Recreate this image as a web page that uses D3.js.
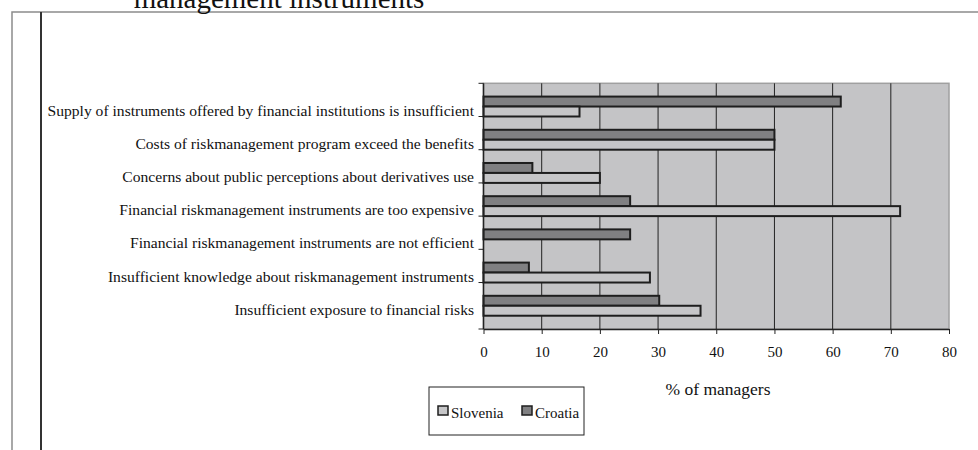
<!DOCTYPE html>
<html><head><meta charset="utf-8">
<script src="https://cdn.jsdelivr.net/npm/d3@7"></script>
<style>body{margin:0;background:#fff}svg{display:block}text{font-family:"Liberation Serif","Times New Roman",serif;fill:#111}</style>
</head><body>
<svg id="chart" width="978" height="450"></svg>
<script>
const categories = [
  "Supply of instruments offered by financial institutions is insufficient",
  "Costs of riskmanagement program exceed the benefits",
  "Concerns about public perceptions about derivatives use",
  "Financial riskmanagement instruments are too expensive",
  "Financial riskmanagement instruments are not efficient",
  "Insufficient knowledge about riskmanagement instruments",
  "Insufficient exposure to financial risks"
];
const seriesNames = ["Croatia", "Slovenia"];
const croatia = [61.4, 50, 8.4, 25.2, 25.2, 7.8, 30.2];
const slovenia = [16.5, 50, 20, 71.6, 0, 28.6, 37.3];
const xTicks = [0, 10, 20, 30, 40, 50, 60, 70, 80];
const legendItems = ["Slovenia", "Croatia"];
const titleText = "management instruments";
const xTitle = "% of managers";

const colors = {Croatia: "#808082", Slovenia: "#c6c6c8"};
const svg = d3.select("#chart");

// outer frame
svg.append("rect").attr("x", 12).attr("y", 12).attr("width", 1000).attr("height", 500)
  .attr("fill", "none").attr("stroke", "#8c8c8c").attr("stroke-width", 1.5);
svg.append("line").attr("x1", 41).attr("x2", 41).attr("y1", 12).attr("y2", 450)
  .attr("stroke", "#333").attr("stroke-width", 2);
svg.append("text").attr("x", 279).attr("y", 8).attr("text-anchor", "middle")
  .style("font-size", "29px").text(titleText);

const L = 483.5, R = 949, T = 83.3, B = 329;
const x = d3.scaleLinear().domain([0, 80]).range([L, R]);
const y = d3.scaleBand().domain(categories).range([T, B]).padding(0.4);
const yi = d3.scaleBand().domain(seriesNames).range([0, y.bandwidth()]);

svg.append("rect").attr("x", L).attr("y", T).attr("width", R - L).attr("height", B - T)
  .attr("fill", "#c4c4c6").attr("stroke", "#a0a0a0").attr("stroke-width", 1.5);

// grid
svg.append("g").selectAll("line").data(xTicks.slice(1, -1)).join("line")
  .attr("x1", d => x(d)).attr("x2", d => x(d)).attr("y1", T).attr("y2", B)
  .attr("stroke", "#222").attr("stroke-width", 1);

// bars
const data = categories.map((c, i) => ({c, Croatia: croatia[i], Slovenia: slovenia[i]}));
const g = svg.append("g");
data.forEach(d => {
  seriesNames.forEach(s => {
    if (d[s] <= 0) return;
    g.append("rect")
      .attr("x", x(0)).attr("y", y(d.c) + yi(s))
      .attr("width", x(d[s]) - x(0)).attr("height", yi.bandwidth())
      .attr("fill", colors[s]).attr("stroke", "#1e1e1e").attr("stroke-width", 2);
  });
});

// x axis
const xAxis = svg.append("g").attr("transform", `translate(0,${B})`)
  .call(d3.axisBottom(x).tickValues(xTicks).tickSize(5).tickPadding(12).tickSizeOuter(0));
xAxis.select(".domain").attr("stroke", "#222").attr("stroke-width", 1.5);
xAxis.selectAll(".tick line").attr("stroke", "#222");
xAxis.selectAll("text").style("font-size", "15px").attr("fill", "#111")
  .style("font-family", "'Liberation Serif',serif");

// y axis (ticks at band boundaries)
const bounds = categories.map(c => y(c) - y.step() * y.paddingOuter()).concat([B]);
svg.append("line").attr("x1", L).attr("x2", L).attr("y1", T).attr("y2", B)
  .attr("stroke", "#222").attr("stroke-width", 1.5);
svg.append("g").selectAll("line").data(bounds).join("line")
  .attr("x1", L - 5).attr("x2", L).attr("y1", d => d).attr("y2", d => d)
  .attr("stroke", "#222").attr("stroke-width", 1);

svg.append("g").selectAll("text").data(categories).join("text")
  .attr("x", 474).attr("y", d => y(d) + y.bandwidth() / 2 + 9)
  .attr("text-anchor", "end").style("font-size", "15.6px").text(d => d);

svg.append("text").attr("x", 718).attr("y", 395).attr("text-anchor", "middle")
  .style("font-size", "17.5px").text(xTitle);

// legend
const lg = svg.append("g");
lg.append("rect").attr("x", 429).attr("y", 387).attr("width", 155).attr("height", 48)
  .attr("fill", "#fff").attr("stroke", "#222").attr("stroke-width", 1);
const lx = [438, 522];
legendItems.forEach((s, i) => {
  lg.append("rect").attr("x", lx[i]).attr("y", 406).attr("width", 10).attr("height", 9)
    .attr("fill", colors[s]).attr("stroke", "#1e1e1e").attr("stroke-width", 1.5);
  lg.append("text").attr("x", lx[i] + 13).attr("y", 418).style("font-size", "15px").text(s);
});
</script>
</body></html>
